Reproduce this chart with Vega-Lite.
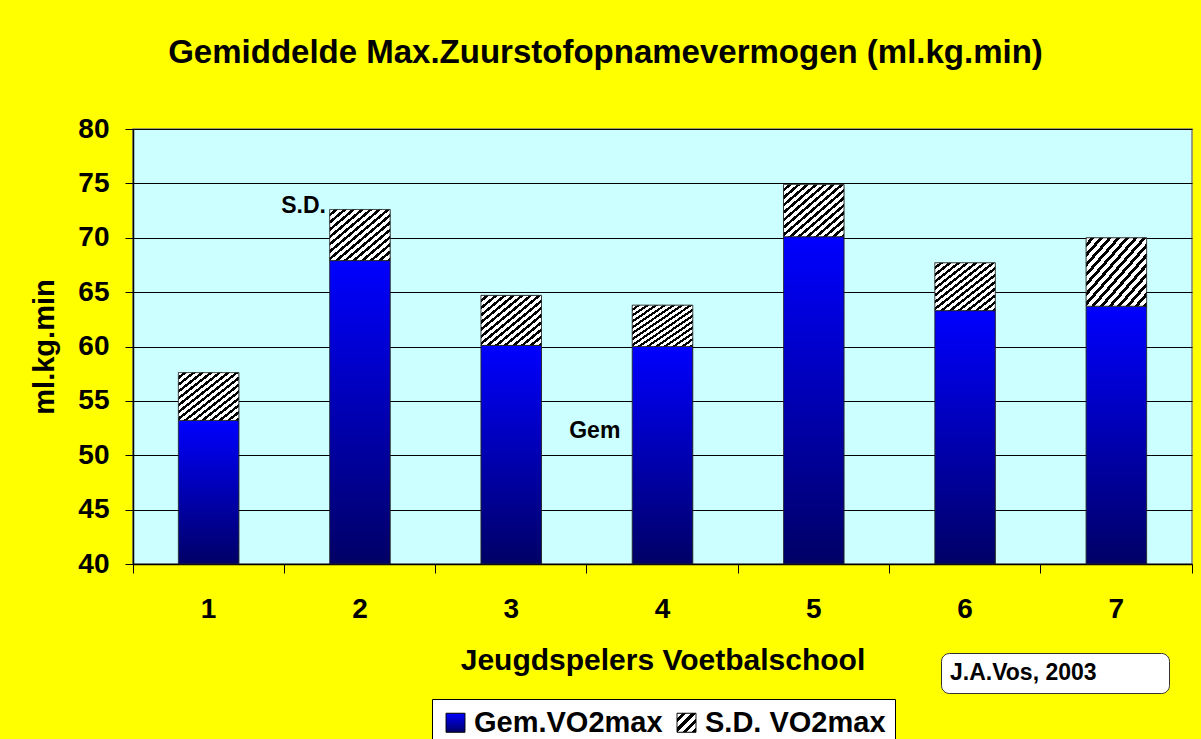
{
  "$schema": "https://vega.github.io/schema/vega-lite/v6.json",
  "width": 1059,
  "height": 435,
  "autosize": {"type": "none"},
  "padding": {"left": 133, "top": 129, "right": 9, "bottom": 175},
  "background": "#FFFF00",
  "title": {
    "text": "Gemiddelde Max.Zuurstofopnamevermogen (ml.kg.min)",
    "font": "Liberation Sans",
    "fontSize": 33,
    "fontWeight": "bold",
    "color": "black",
    "anchor": "middle",
    "dx": -57,
    "offset": 45
  },
  "config": {
    "font": "Liberation Sans",
    "view": {"fill": "#CCFFFF", "stroke": "#808080", "strokeWidth": 1.5}
  },
  "data": {
    "values": [
      {"speler": "1", "reeks": "Gem.VO2max", "waarde": 53.2},
      {"speler": "1", "reeks": "S.D. VO2max", "waarde": 4.4},
      {"speler": "2", "reeks": "Gem.VO2max", "waarde": 67.9},
      {"speler": "2", "reeks": "S.D. VO2max", "waarde": 4.7},
      {"speler": "3", "reeks": "Gem.VO2max", "waarde": 60.1},
      {"speler": "3", "reeks": "S.D. VO2max", "waarde": 4.6},
      {"speler": "4", "reeks": "Gem.VO2max", "waarde": 60.0},
      {"speler": "4", "reeks": "S.D. VO2max", "waarde": 3.8},
      {"speler": "5", "reeks": "Gem.VO2max", "waarde": 70.1},
      {"speler": "5", "reeks": "S.D. VO2max", "waarde": 4.8},
      {"speler": "6", "reeks": "Gem.VO2max", "waarde": 63.3},
      {"speler": "6", "reeks": "S.D. VO2max", "waarde": 4.4},
      {"speler": "7", "reeks": "Gem.VO2max", "waarde": 63.7},
      {"speler": "7", "reeks": "S.D. VO2max", "waarde": 6.3}
    ]
  },
  "transform": [
    {"stack": "waarde", "groupby": ["speler"], "sort": [{"field": "reeks", "order": "ascending"}], "as": ["onder", "boven"]}
  ],
  "layer": [
    {
      "transform": [{"filter": "datum.reeks === 'Gem.VO2max'"}],
      "mark": {
        "type": "bar", "width": {"band": 0.4}, "stroke": "#222222", "strokeWidth": 1,
        "fill": {"gradient": "linear", "x1": 0, "y1": 0, "x2": 0, "y2": 1,
          "stops": [{"offset": 0, "color": "#0000FF"}, {"offset": 1, "color": "#000066"}]}
      },
      "encoding": {
        "x": {
          "field": "speler", "type": "nominal",
          "scale": {"paddingInner": 0, "paddingOuter": 0},
          "axis": {
            "title": "Jeugdspelers Voetbalschool",
            "labelAngle": 0,
            "labelFont": "Liberation Sans",
            "labelFontSize": 28,
            "labelFontWeight": "bold",
            "labelColor": "black",
            "labelPadding": 22,
            "tickSize": 9,
            "tickColor": "black",
            "domainColor": "black",
            "domainWidth": 1.5,
            "bandPosition": 1,
            "tickExtra": true,
            "titleFont": "Liberation Sans",
            "titleFontSize": 30,
            "titleFontWeight": "bold",
            "titleColor": "black",
            "titlePadding": 22
          }
        },
        "y": {
          "field": "boven", "type": "quantitative",
          "scale": {"domain": [40, 80], "nice": false, "zero": false},
          "axis": {
            "title": "ml.kg.min",
            "values": [40, 45, 50, 55, 60, 65, 70, 75, 80],
            "labelFont": "Liberation Sans",
            "labelFontSize": 28,
            "labelFontWeight": "bold",
            "labelColor": "black",
            "labelPadding": 16,
            "tickSize": 8,
            "tickColor": "black",
            "domainColor": "black",
            "domainWidth": 1.5,
            "gridColor": "#000000",
            "gridWidth": 1,
            "titleFont": "Liberation Sans",
            "titleFontSize": 29,
            "titleFontWeight": "bold",
            "titleColor": "black",
            "titlePadding": 18
          }
        },
        "y2": {"datum": 40},
        "strokeDash": {
          "field": "reeks", "type": "nominal",
          "scale": {"domain": ["Gem.VO2max", "S.D. VO2max"], "range": [[1, 0], [1, 0]]},
          "legend": {
            "title": null,
            "orient": "none",
            "direction": "horizontal",
            "legendX": 299,
            "legendY": 570,
            "fillColor": "white",
            "strokeColor": "black",
            "padding": 9,
            "symbolType": "square",
            "symbolSize": 361,
            "symbolStrokeColor": "black",
            "symbolStrokeWidth": 1,
            "labelFont": "Liberation Sans",
            "labelFontSize": 29,
            "labelFontWeight": "bold",
            "labelColor": "black",
            "labelLimit": 400,
            "labelOffset": 4,
            "columnPadding": 9,
            "encoding": {
              "symbols": {
                "shape": {"value": "square"},
                "fill": {
                  "condition": {
                    "test": "datum.value === 'S.D. VO2max'",
                    "value": {"gradient": "linear", "x1": 0, "y1": 0, "x2": 1, "y2": 1,
                      "stops": [
                        {"offset": 0, "color": "#FFFFFF"}, {"offset": 0.1375, "color": "#FFFFFF"}, {"offset": 0.1375, "color": "#000000"}, {"offset": 0.25, "color": "#000000"},
                        {"offset": 0.25, "color": "#FFFFFF"}, {"offset": 0.3875, "color": "#FFFFFF"}, {"offset": 0.3875, "color": "#000000"}, {"offset": 0.5, "color": "#000000"},
                        {"offset": 0.5, "color": "#FFFFFF"}, {"offset": 0.6375, "color": "#FFFFFF"}, {"offset": 0.6375, "color": "#000000"}, {"offset": 0.75, "color": "#000000"},
                        {"offset": 0.75, "color": "#FFFFFF"}, {"offset": 0.8875, "color": "#FFFFFF"}, {"offset": 0.8875, "color": "#000000"}, {"offset": 1, "color": "#000000"}
                      ]}
                  },
                  "value": {"gradient": "linear", "x1": 0, "y1": 0, "x2": 0, "y2": 1,
                    "stops": [{"offset": 0, "color": "#0000FF"}, {"offset": 1, "color": "#000066"}]}
                },
                "stroke": {"value": "black"}
              }
            }
          }
        }
      }
    },
    {
      "transform": [{"filter": "datum.reeks === 'S.D. VO2max'"}],
      "mark": {
        "type": "bar", "width": {"band": 0.4}, "stroke": "#222222", "strokeWidth": 1,
        "fill": {"gradient": "linear", "x1": 0, "y1": 0, "x2": 1, "y2": 1,
          "stops": [
            {"offset": 0, "color": "#FFFFFF"}, {"offset": 0.0393, "color": "#FFFFFF"}, {"offset": 0.0393, "color": "#000000"}, {"offset": 0.0714, "color": "#000000"},
            {"offset": 0.0714, "color": "#FFFFFF"}, {"offset": 0.1107, "color": "#FFFFFF"}, {"offset": 0.1107, "color": "#000000"}, {"offset": 0.1429, "color": "#000000"},
            {"offset": 0.1429, "color": "#FFFFFF"}, {"offset": 0.1821, "color": "#FFFFFF"}, {"offset": 0.1821, "color": "#000000"}, {"offset": 0.2143, "color": "#000000"},
            {"offset": 0.2143, "color": "#FFFFFF"}, {"offset": 0.2536, "color": "#FFFFFF"}, {"offset": 0.2536, "color": "#000000"}, {"offset": 0.2857, "color": "#000000"},
            {"offset": 0.2857, "color": "#FFFFFF"}, {"offset": 0.325, "color": "#FFFFFF"}, {"offset": 0.325, "color": "#000000"}, {"offset": 0.3571, "color": "#000000"},
            {"offset": 0.3571, "color": "#FFFFFF"}, {"offset": 0.3964, "color": "#FFFFFF"}, {"offset": 0.3964, "color": "#000000"}, {"offset": 0.4286, "color": "#000000"},
            {"offset": 0.4286, "color": "#FFFFFF"}, {"offset": 0.4679, "color": "#FFFFFF"}, {"offset": 0.4679, "color": "#000000"}, {"offset": 0.5, "color": "#000000"},
            {"offset": 0.5, "color": "#FFFFFF"}, {"offset": 0.5393, "color": "#FFFFFF"}, {"offset": 0.5393, "color": "#000000"}, {"offset": 0.5714, "color": "#000000"},
            {"offset": 0.5714, "color": "#FFFFFF"}, {"offset": 0.6107, "color": "#FFFFFF"}, {"offset": 0.6107, "color": "#000000"}, {"offset": 0.6429, "color": "#000000"},
            {"offset": 0.6429, "color": "#FFFFFF"}, {"offset": 0.6821, "color": "#FFFFFF"}, {"offset": 0.6821, "color": "#000000"}, {"offset": 0.7143, "color": "#000000"},
            {"offset": 0.7143, "color": "#FFFFFF"}, {"offset": 0.7536, "color": "#FFFFFF"}, {"offset": 0.7536, "color": "#000000"}, {"offset": 0.7857, "color": "#000000"},
            {"offset": 0.7857, "color": "#FFFFFF"}, {"offset": 0.825, "color": "#FFFFFF"}, {"offset": 0.825, "color": "#000000"}, {"offset": 0.8571, "color": "#000000"},
            {"offset": 0.8571, "color": "#FFFFFF"}, {"offset": 0.8964, "color": "#FFFFFF"}, {"offset": 0.8964, "color": "#000000"}, {"offset": 0.9286, "color": "#000000"},
            {"offset": 0.9286, "color": "#FFFFFF"}, {"offset": 0.9679, "color": "#FFFFFF"}, {"offset": 0.9679, "color": "#000000"}, {"offset": 1, "color": "#000000"}
          ]}
      },
      "encoding": {
        "x": {"field": "speler", "type": "nominal"},
        "y": {"field": "onder", "type": "quantitative"},
        "y2": {"field": "boven"},
        "strokeDash": {"field": "reeks", "type": "nominal"}
      }
    },
    {
      "data": {"values": [{"speler": "2", "waarde": 72.3, "tekst": "S.D.", "bron": "J.A.Vos, 2003"}]},
      "mark": {"type": "text", "align": "right", "baseline": "alphabetic", "dx": -34, "font": "Liberation Sans", "fontSize": 23, "fontWeight": "bold", "color": "black"},
      "encoding": {
        "x": {"field": "speler", "type": "nominal"},
        "y": {"field": "waarde", "type": "quantitative"},
        "text": {"field": "tekst"},
        "stroke": {
          "field": "bron", "type": "nominal",
          "scale": {"range": ["transparent"]},
          "legend": {
            "title": null,
            "orient": "none",
            "legendX": 808,
            "legendY": 524,
            "fillColor": "white",
            "strokeColor": "#333333",
            "cornerRadius": 8,
            "padding": 8,
            "symbolType": "square",
            "symbolSize": 1,
            "symbolOpacity": 0,
            "symbolStrokeWidth": 0,
            "labelOffset": -22,
            "labelFont": "Liberation Sans",
            "labelFontSize": 23,
            "labelFontWeight": "bold",
            "labelColor": "black",
            "labelLimit": 400,
            "labelExpr": "datum.label + '          \u200b'"
          }
        }
      }
    },
    {
      "data": {"values": [{"speler": "3", "waarde": 51.6, "tekst": "Gem"}]},
      "mark": {"type": "text", "align": "left", "baseline": "alphabetic", "dx": 58, "font": "Liberation Sans", "fontSize": 23, "fontWeight": "bold", "color": "black"},
      "encoding": {
        "x": {"field": "speler", "type": "nominal"},
        "y": {"field": "waarde", "type": "quantitative"},
        "text": {"field": "tekst"}
      }
    }
  ]
}
